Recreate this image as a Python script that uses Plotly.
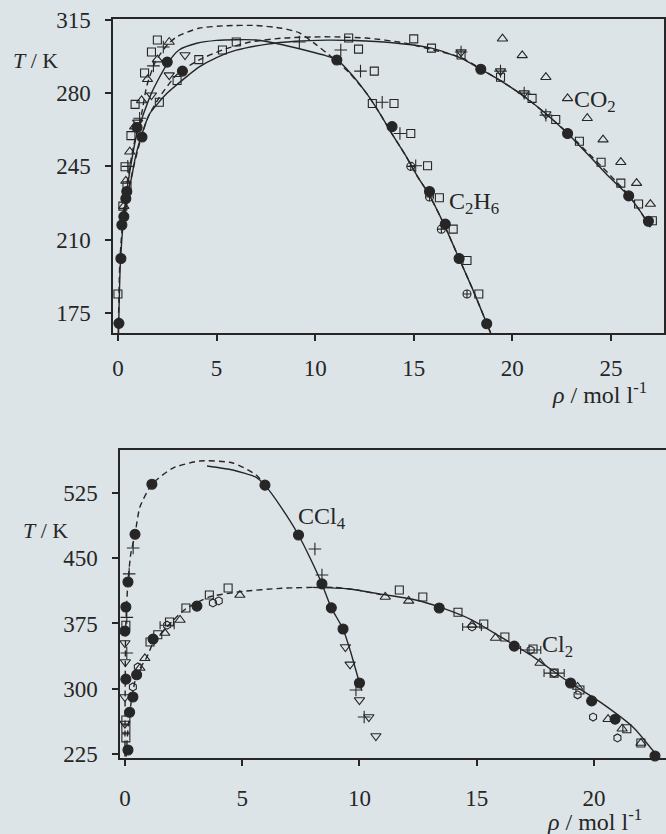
import plotly.graph_objects as go

# ---------------- TOP PANEL (C2H6, CO2) ----------------
# curves (rho / mol l-1, T / K)
c2h6_exp_rho = [0.03, 0.13, 0.4, 0.95, 1.7, 2.5, 3.1, 4.0, 5.0, 6.0, 7.0, 8.4, 9.7, 10.5, 11.1, 11.75, 12.6, 13.3, 13.8, 14.6, 15.2, 15.75, 16.5, 17.3, 18.0, 18.7, 18.9]
c2h6_exp_T = [165.4, 200, 230, 260, 280, 294, 300.6, 303.8, 305.2, 305.5, 305.4, 303, 300, 298, 296, 290, 280, 270, 262, 250, 240, 232, 218, 201, 186, 170, 165.4]
c2h6_sim_rho = [0.02, 0.1, 0.35, 0.8, 1.2, 1.45, 1.9, 2.5, 3.0, 4.1, 5.5, 7.0, 8.3, 9.2, 10.0, 10.9, 11.7, 12.6, 13.3, 13.8, 14.6, 15.2, 15.75, 16.5, 17.3, 18.0, 18.7, 18.9]
c2h6_sim_T = [165.4, 200, 230, 255, 270, 283, 295, 303, 307, 311, 312.2, 312.3, 311, 308.8, 303.5, 296.7, 290, 280, 270, 262, 250, 240, 232, 218, 201, 186, 170, 165.4]
co2_exp_rho = [0.3, 0.45, 0.7, 0.9, 1.2, 1.6, 2.5, 3.5, 4.1, 5.0, 6.0, 7.5, 9.0, 10.6, 12.0, 13.8, 15.9, 17.4, 18.4, 19.4, 20.5, 21.6, 22.8, 23.8, 24.9, 25.9, 26.6, 27.0]
co2_exp_T = [216, 230, 240, 250, 260, 270, 280, 288, 292.4, 297, 300.5, 303.3, 304.8, 305.3, 305.1, 304.2, 301.5, 296.7, 291.4, 286, 279, 271, 260.7, 251, 240, 230.9, 222, 216]
co2_sim_rho = [0.3, 0.5, 0.8, 1.1, 1.5, 2.1, 3.0, 4.1, 5.3, 6.7, 8.4, 10.5, 12.6, 14.5, 16.0, 17.4, 18.4, 20.5, 22.8, 25.9, 27.0]
co2_sim_T = [216, 232, 245, 256, 268, 278, 289, 295.8, 300.6, 304.4, 306.3, 306.9, 306.3, 304, 300.6, 297, 291.6, 279.2, 261, 231.2, 216]

# markers
top_fc_rho = [0.05, 0.15, 0.2, 0.4, 0.45, 0.3, 0.97, 1.22, 2.5, 3.27, 11.1, 13.9, 15.8, 16.6, 17.3, 18.7, 18.4, 22.8, 25.9, 26.9]
top_fc_T = [170, 201, 217, 229.6, 233, 221, 263.6, 259, 294.8, 290.5, 295.8, 264, 233, 217.4, 201, 169.8, 291.4, 260.7, 230.9, 218.8]
top_sq_rho = [12.2, 13.0, 12.9, 14.0, 14.85, 15.7, 16.3, 17.0, 17.7, 18.3,
              11.7, 15.0, 15.9, 17.4, 19.4, 21.0, 22.2, 23.4, 24.5, 25.5, 26.4, 27.1,
              6.0, 5.3, 4.1, 3.0, 2.1, 2.0, 1.7, 1.35, 0.87, 0.66, 0.36, 0.46, 0.0, 0.25]
top_sq_T = [301, 290.5, 275, 275, 260.7, 245.3, 230, 215, 200, 184,
            306.3, 305.9, 301.5, 298.2, 287.6, 277.5, 267.4, 257, 247, 237, 227, 219,
            304.4, 300.6, 296, 286, 275.6, 305.4, 299.6, 289.6, 274.6, 259.7, 244.8, 235.7, 184, 226]
top_tu_rho = [19.5, 20.5, 21.7, 22.8, 23.8, 24.6, 25.5, 26.3, 27.0, 27.7,
              2.6, 2.0, 1.5, 1.2, 0.85, 0.6, 0.4, 0.3]
top_tu_T = [306, 298, 287.6, 277.5, 268, 257.8, 247, 237, 227, 219,
            304.4, 296, 286.6, 276.5, 264, 252, 238, 226]
top_td_rho = [3.4, 2.6, 1.7, 17.4, 19.4, 20.6, 21.7, 1.0]
top_td_T = [298.2, 288.6, 279, 299.6, 290.5, 280, 270, 266]
top_pl_rho = [11.3, 12.3, 13.4, 14.3, 15.1, 17.4, 19.4, 20.6, 21.7, 9.2, 2.3, 1.8, 1.1, 0.5]
top_pl_T = [300.6, 290.5, 275.6, 260.7, 245.3, 299.6, 290.5, 280, 269.5, 304.4, 302, 293, 268, 245]
top_oc_rho = [14.85, 15.8, 16.4, 17.7]
top_oc_T = [245, 230.4, 215, 184]

# ---------------- BOTTOM PANEL (CCl4, Cl2) ----------------
ccl4_sim_rho = [0.0, 0.01, 0.03, 0.08, 0.13, 0.25, 0.43, 0.64, 1.15, 2.05, 3.2, 4.6, 5.6, 5.97]
ccl4_sim_T = [222, 300, 366, 400, 423, 455, 477.5, 509, 535, 553.7, 561.8, 559.5, 545.7, 534]
ccl4_exp_rho = [3.5, 4.6, 5.6, 5.97, 6.7, 7.4, 7.9, 8.4, 8.8, 9.3, 9.65, 10.0, 10.1]
ccl4_exp_T = [556, 551.4, 543, 534, 507, 476.7, 450, 420.5, 393, 368.7, 340, 306.6, 298]
cl2_sim_rho = [0.05, 0.15, 0.3, 0.5, 0.94, 1.2, 1.6, 2.0, 2.6, 3.6, 4.9, 6.7, 8.9, 10.0, 11.1]
cl2_sim_T = [222, 260, 290.5, 316, 336.5, 352.6, 365, 377, 392, 405.5, 411.5, 415.5, 416.5, 413, 407]
cl2_exp_rho = [8.0, 9.5, 11.1, 12.4, 13.4, 14.8, 16.0, 17.4, 18.8, 20.3, 21.7, 22.6, 22.75]
cl2_exp_T = [416.5, 415, 408, 402, 394, 379, 360, 337, 310, 284, 255, 226, 221]

bot_fc_rho = [1.15, 0.43, 0.13, 0.04, 0.0, 0.04, 0.13, 5.97, 7.4, 8.4, 8.8, 9.3, 10.0,
              3.07, 1.2, 0.5, 0.34, 0.2, 13.4, 16.6, 19.0, 19.9, 20.9, 22.6]
bot_fc_T = [535, 477.5, 422.7, 394, 366.4, 311, 229.6, 534, 476.7, 420.5, 393, 368.7, 306.6,
            395, 357, 316, 290.5, 273, 392.8, 349, 306.6, 286, 265, 222.7]
bot_pl_rho = [0.35, 0.18, 0.08, 0.08, 8.1, 8.4, 9.85, 10.2]
bot_pl_T = [461.8, 432, 382, 341, 460.6, 430.7, 298.5, 267.5]
bot_td_rho = [9.4, 9.6, 10.0, 10.4, 10.7, 0.0, 0.02, 0.0, 0.0]
bot_td_T = [348, 328, 287, 267.5, 245.7, 352.6, 330.7, 290.5, 260]
bot_sq_rho = [1.4, 1.9, 2.6, 3.6, 4.4, 1.07, 0.04, 0.04, 0.04, 0.04,
              11.7, 12.7, 14.2, 15.3, 16.2, 17.4, 18.3, 19.4, 21.4, 22.0]
bot_sq_T = [362, 376.7, 392.8, 407.7, 415.8, 353.7, 264, 254, 243.5, 373,
            413.5, 405.5, 388, 374.4, 359.5, 345.7, 318, 298.5, 254, 237.6]
bot_tu_rho = [1.7, 2.35, 4.9, 0.85, 0.64, 11.1, 12.1, 14.8, 15.8, 17.7, 19.3, 20.6, 21.2, 22.0]
bot_tu_T = [364, 379, 407.7, 335, 323.8, 405.5, 401, 373.3, 358.3, 329.6, 302, 265, 254, 237.6]
bot_hx_rho = [19.3, 19.96, 21.0, 22.0, 3.75, 4.0, 0.55, 0.34]
bot_hx_T = [293, 267.5, 243.5, 219.5, 398.6, 401, 325, 302]
bot_err_rho = [17.3, 18.3, 14.8, 1.8]
bot_err_T = [344.5, 318, 371, 373]
bot_err_dx = [0.43, 0.43, 0.4, 0.3]

INK = '#262626'
BG = '#dde4e7'
FONT = 'Liberation Serif'

fig = go.Figure()


def line(x, y, xa, ya, dash='solid'):
    fig.add_trace(go.Scatter(x=x, y=y, mode='lines', xaxis=xa, yaxis=ya,
                             line=dict(color=INK, width=1.4, dash=dash, shape='spline', smoothing=0.6),
                             showlegend=False, hoverinfo='skip'))


def pts(x, y, xa, ya, symbol, size, err=None):
    m = dict(symbol=symbol, size=size, color=INK, line=dict(color=INK, width=1.1))
    kw = {}
    if err is not None:
        kw['error_x'] = dict(type='data', array=err, visible=True, color=INK, thickness=1.1, width=4)
    fig.add_trace(go.Scatter(x=x, y=y, mode='markers', xaxis=xa, yaxis=ya, marker=m,
                             showlegend=False, hoverinfo='skip', cliponaxis=False, **kw))


# top panel
line(c2h6_exp_rho, c2h6_exp_T, 'x', 'y')
line(c2h6_sim_rho, c2h6_sim_T, 'x', 'y', dash='6px,4px')
line(co2_exp_rho, co2_exp_T, 'x', 'y')
line(co2_sim_rho, co2_sim_T, 'x', 'y', dash='6px,4px')
pts(top_sq_rho, top_sq_T, 'x', 'y', 'square-open', 8)
pts(top_tu_rho, top_tu_T, 'x', 'y', 'triangle-up-open', 9)
pts(top_td_rho, top_td_T, 'x', 'y', 'triangle-down-open', 9)
pts(top_pl_rho, top_pl_T, 'x', 'y', 'cross-thin-open', 9)
pts(top_oc_rho, top_oc_T, 'x', 'y', 'circle-cross-open', 8)
pts(top_fc_rho, top_fc_T, 'x', 'y', 'circle', 10)

# bottom panel
line(ccl4_sim_rho, ccl4_sim_T, 'x2', 'y2', dash='6px,4px')
line(ccl4_exp_rho, ccl4_exp_T, 'x2', 'y2')
line(cl2_sim_rho, cl2_sim_T, 'x2', 'y2', dash='6px,4px')
line(cl2_exp_rho, cl2_exp_T, 'x2', 'y2')
pts(bot_sq_rho, bot_sq_T, 'x2', 'y2', 'square-open', 8)
pts(bot_tu_rho, bot_tu_T, 'x2', 'y2', 'triangle-up-open', 9)
pts(bot_td_rho, bot_td_T, 'x2', 'y2', 'triangle-down-open', 9)
pts(bot_pl_rho, bot_pl_T, 'x2', 'y2', 'cross-thin-open', 9)
pts(bot_hx_rho, bot_hx_T, 'x2', 'y2', 'hexagon-open', 8)
pts(bot_err_rho, bot_err_T, 'x2', 'y2', 'hexagon-open', 8, err=bot_err_dx)
pts(bot_fc_rho, bot_fc_T, 'x2', 'y2', 'circle', 10)

W, H = 666, 834
axis_common = dict(showline=True, linecolor=INK, linewidth=1.5, mirror=True, ticks='outside',
                   ticklen=6, tickwidth=1.5, tickcolor=INK, showgrid=False, zeroline=False,
                   automargin=False, tickfont=dict(family=FONT, size=23, color=INK))

fig.update_layout(
    width=W, height=H, margin=dict(l=0, r=0, t=0, b=0, autoexpand=False),
    paper_bgcolor=BG, plot_bgcolor=BG,
    xaxis=dict(domain=[113 / W, 664 / W], range=[-0.25, 27.69], anchor='y',
               tickvals=[0, 5, 10, 15, 20, 25], ticklabelstandoff=8, **axis_common),
    yaxis=dict(domain=[1 - 333 / H, 1 - 19 / H], range=[165.4, 315.4], anchor='x',
               tickvals=[175, 210, 245, 280, 315], ticklabelstandoff=10, **axis_common),
    xaxis2=dict(domain=[120 / W, 1.0], range=[-0.21, 23.07], anchor='y2',
                tickvals=[0, 5, 10, 15, 20], ticklabelstandoff=13, **axis_common),
    yaxis2=dict(domain=[1 - 758 / H, 1 - 450 / H], range=[220.4, 574.4], anchor='x2',
                tickvals=[225, 300, 375, 450, 525], ticklabelstandoff=10, **axis_common),
)


def text(s, px, py, size=23, xanchor='center'):
    fig.add_annotation(text=s, x=px / W, y=1 - py / H, xref='paper', yref='paper',
                       xanchor=xanchor, yanchor='middle', showarrow=False,
                       font=dict(family=FONT, size=size, color=INK))


text('<i>T</i> / K', 35, 60, 22)
text('<i>T</i> / K', 45, 530, 22)
text('<i>ρ</i> / mol l<sup>-1</sup>', 550, 393, 24, 'left')
text('<i>ρ</i> / mol l<sup>-1</sup>', 545, 820, 24, 'left')
text('C<sub>2</sub>H<sub>6</sub>', 447, 203, 24, 'left')
text('CO<sub>2</sub>', 572, 101, 24, 'left')
text('CCl<sub>4</sub>', 296, 518, 24, 'left')
text('Cl<sub>2</sub>', 540, 646, 24, 'left')

fig.write_html('out.html')
